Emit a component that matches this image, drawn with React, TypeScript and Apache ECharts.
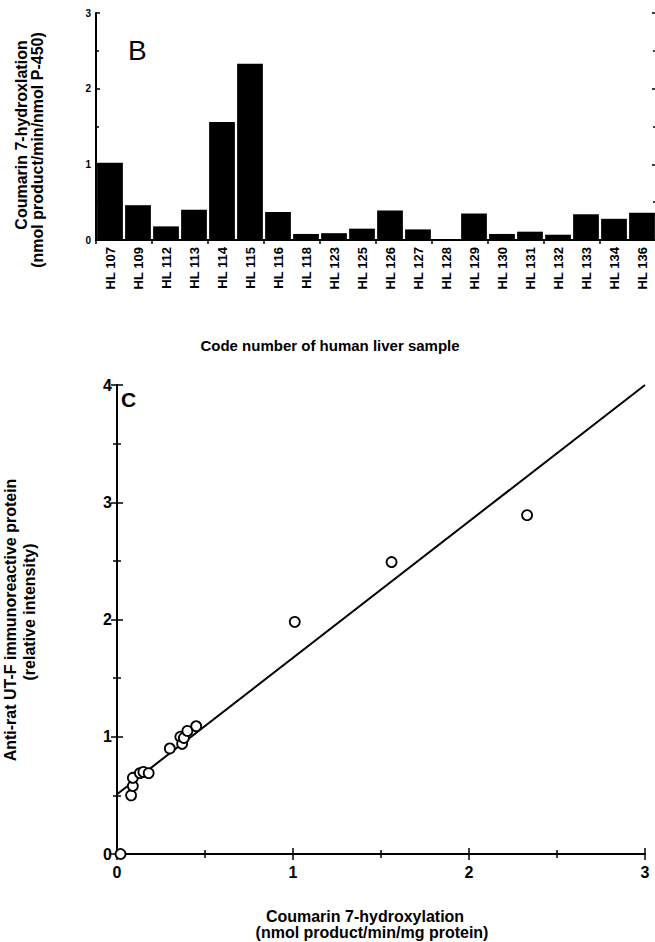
import React, { useEffect, useRef } from "react";
import * as echarts from "echarts";

const categories = [
  "HL 107", "HL 109", "HL 112", "HL 113", "HL 114", "HL 115", "HL 116", "HL 118",
  "HL 123", "HL 125", "HL 126", "HL 127", "HL 128", "HL 129", "HL 130", "HL 131",
  "HL 132", "HL 133", "HL 134", "HL 136",
];
const activityPerP450 = [
  1.02, 0.46, 0.18, 0.4, 1.56, 2.33, 0.37, 0.08,
  0.09, 0.15, 0.39, 0.14, 0.01, 0.35, 0.08, 0.11,
  0.07, 0.34, 0.28, 0.36,
];

const scatterX = [0.02, 0.08, 0.09, 0.09, 0.13, 0.15, 0.18, 0.3, 0.36, 0.37, 0.38, 0.4, 0.45, 1.01, 1.56, 2.33];
const scatterY = [0.0, 0.5, 0.58, 0.65, 0.69, 0.7, 0.69, 0.9, 1.0, 0.94, 0.99, 1.05, 1.09, 1.98, 2.49, 2.89];

const fitX = [0, 3];
const fitY = [0.51, 4.0];

const FONT = "'Liberation Sans', Arial, Helvetica, sans-serif";

export default function App() {
  const ref = useRef<HTMLDivElement>(null);
  useEffect(() => {
    document.body.style.margin = "0";
    if (!ref.current) return;
    const chart = echarts.init(ref.current, null, { renderer: "svg" });
    const axisLine = { show: true, lineStyle: { color: "#000", width: 2 } };
    const valueAxisCommon = {
      axisLine,
      splitLine: { show: false },
      axisTick: { show: true, inside: true, length: 6, lineStyle: { color: "#000", width: 1.5 } },
      minorTick: { show: true, splitNumber: 2, length: 4, lineStyle: { color: "#000", width: 1.5 } },
    };
    const option: any = {
      animation: false,
      backgroundColor: "#fff",
      grid: [
        { left: 96, top: 13, width: 560, height: 227, outerBoundsMode: "none" },
        { left: 117, top: 385, width: 528, height: 469, outerBoundsMode: "none" },
      ],
      xAxis: [
        {
          gridIndex: 0,
          type: "category",
          data: categories,
          position: "bottom",
          axisLine,
          axisTick: { show: false },
          axisLabel: {
            rotate: 90,
            interval: 0,
            margin: 7,
            fontSize: 13,
            fontWeight: "bold",
            fontFamily: FONT,
            color: "#000",
          },
        },
        {
          gridIndex: 0,
          type: "category",
          data: categories,
          position: "top",
          axisLine,
          axisTick: { show: true, inside: true, length: 4, lineStyle: { color: "#000", width: 1.5 } },
          axisLabel: { show: false },
        },
        {
          gridIndex: 1,
          type: "value",
          min: 0,
          max: 3,
          interval: 1,
          position: "bottom",
          ...valueAxisCommon,
          axisLabel: { margin: 10, fontSize: 16, fontWeight: "bold", fontFamily: FONT, color: "#000" },
        },
        {
          gridIndex: 1,
          type: "value",
          min: 0,
          max: 3,
          interval: 1,
          position: "top",
          ...valueAxisCommon,
          axisLabel: { show: false },
        },
      ],
      yAxis: [
        {
          gridIndex: 0,
          type: "value",
          min: 0,
          max: 3,
          interval: 1,
          position: "left",
          ...valueAxisCommon,
          axisTick: { show: true, inside: true, length: 4, lineStyle: { color: "#000", width: 1.5 } },
          minorTick: { show: true, splitNumber: 2, length: 3, lineStyle: { color: "#000", width: 1.5 } },
          axisLabel: { margin: 5, fontSize: 10, fontWeight: "bold", fontFamily: FONT, color: "#000" },
        },
        {
          gridIndex: 0,
          type: "value",
          min: 0,
          max: 3,
          interval: 1,
          position: "right",
          ...valueAxisCommon,
          axisTick: { show: true, inside: true, length: 4, lineStyle: { color: "#000", width: 1.5 } },
          minorTick: { show: true, splitNumber: 2, length: 3, lineStyle: { color: "#000", width: 1.5 } },
          axisLabel: { show: false },
        },
        {
          gridIndex: 1,
          type: "value",
          min: 0,
          max: 4,
          interval: 1,
          position: "left",
          ...valueAxisCommon,
          axisLabel: { margin: 5, fontSize: 16, fontWeight: "bold", fontFamily: FONT, color: "#000" },
        },
        {
          gridIndex: 1,
          type: "value",
          min: 0,
          max: 4,
          interval: 1,
          position: "right",
          ...valueAxisCommon,
          axisLabel: { show: false },
        },
      ],
      series: [
        {
          type: "bar",
          xAxisIndex: 0,
          yAxisIndex: 0,
          data: activityPerP450,
          barCategoryGap: "8%",
          itemStyle: { color: "#000" },
        },
        {
          type: "line",
          xAxisIndex: 2,
          yAxisIndex: 2,
          data: fitX.map((x, i) => [x, fitY[i]]),
          symbol: "none",
          lineStyle: { color: "#000", width: 2 },
          z: 2,
        },
        {
          type: "scatter",
          xAxisIndex: 2,
          yAxisIndex: 2,
          data: scatterX.map((x, i) => [x, scatterY[i]]),
          symbol: "circle",
          symbolSize: 10,
          itemStyle: { color: "#fff", borderColor: "#000", borderWidth: 1.8, opacity: 1 },
          z: 3,
        },
      ],
      graphic: [
        {
          type: "text",
          left: 128,
          top: 36,
          style: { text: "B", font: `normal 28px ${FONT}`, fill: "#000" },
        },
        {
          type: "text",
          left: 121,
          top: 389,
          style: { text: "C", font: `bold 21px ${FONT}`, fill: "#000" },
        },
        {
          type: "text",
          x: 21,
          y: 135,
          rotation: Math.PI / 2,
          style: {
            text: "Coumarin 7-hydroxlation",
            font: `bold 16px ${FONT}`,
            fill: "#000",
            textAlign: "center",
            textVerticalAlign: "middle",
          },
        },
        {
          type: "text",
          x: 37,
          y: 150,
          rotation: Math.PI / 2,
          style: {
            text: "(nmol product/min/nmol P-450)",
            font: `bold 16px ${FONT}`,
            fill: "#000",
            textAlign: "center",
            textVerticalAlign: "middle",
          },
        },
        {
          type: "text",
          x: 330,
          y: 345,
          style: {
            text: "Code number of human liver sample",
            font: `bold 15px ${FONT}`,
            fill: "#000",
            textAlign: "center",
            textVerticalAlign: "middle",
          },
        },
        {
          type: "text",
          x: 10,
          y: 620,
          rotation: Math.PI / 2,
          style: {
            text: "Anti-rat UT-F immunoreactive protein",
            font: `bold 16px ${FONT}`,
            fill: "#000",
            textAlign: "center",
            textVerticalAlign: "middle",
          },
        },
        {
          type: "text",
          x: 29,
          y: 612,
          rotation: Math.PI / 2,
          style: {
            text: "(relative intensity)",
            font: `bold 16px ${FONT}`,
            fill: "#000",
            textAlign: "center",
            textVerticalAlign: "middle",
          },
        },
        {
          type: "text",
          x: 365,
          y: 916,
          style: {
            text: "Coumarin 7-hydroxylation",
            font: `bold 16px ${FONT}`,
            fill: "#000",
            textAlign: "center",
            textVerticalAlign: "middle",
          },
        },
        {
          type: "text",
          x: 372,
          y: 932,
          style: {
            text: "(nmol product/min/mg protein)",
            font: `bold 16px ${FONT}`,
            fill: "#000",
            textAlign: "center",
            textVerticalAlign: "middle",
          },
        },
      ],
    };
    chart.setOption(option);
    return () => chart.dispose();
  }, []);
  return (
    <div
      ref={ref}
      style={{ position: "absolute", left: 0, top: 0, width: 655, height: 942 }}
    />
  );
}
